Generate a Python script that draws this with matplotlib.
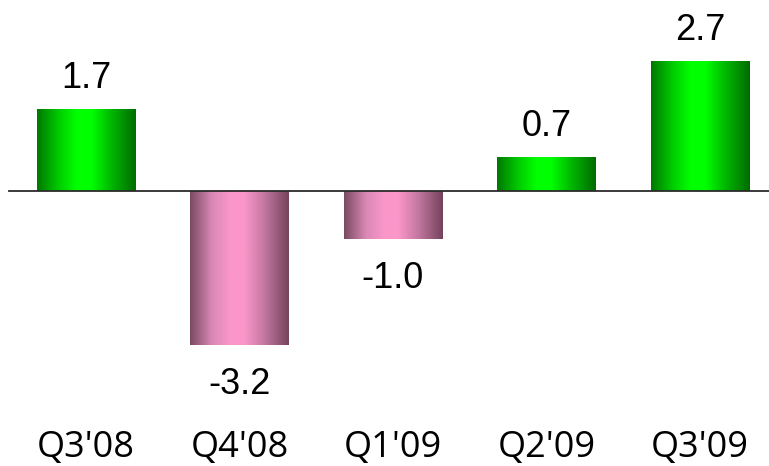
import numpy as np
import matplotlib
matplotlib.use("Agg")
import matplotlib.pyplot as plt
from matplotlib.colors import LinearSegmentedColormap

quarters = ["Q3'08", "Q4'08", "Q1'09", "Q2'09", "Q3'09"]
growth = [1.7, -3.2, -1.0, 0.7, 2.7]
labels = ["1.7", "-3.2", "-1.0", "0.7", "2.7"]

fig = plt.figure(figsize=(7.69, 4.66), dpi=100)
ax = fig.add_axes([0, 0, 1, 1])
ax.axis("off")

# cylinder-style horizontal shading: dark edges, bright centre
pos = [0.0, 0.22, 0.4, 0.55, 0.75, 1.0]
green = LinearSegmentedColormap.from_list(
    "green_bar", list(zip(pos, ["#007800", "#00cc00", "#00ff00", "#00ff00", "#00b800", "#006c00"])))
pink = LinearSegmentedColormap.from_list(
    "pink_bar", list(zip(pos, ["#7a4a62", "#d888b5", "#fb96c9", "#fb96c9", "#c478a2", "#74435b"])))
shade = np.linspace(0, 1, 256).reshape(1, -1)

bars = ax.bar(range(len(growth)), growth, width=0.64, color="none", edgecolor="none")
for bar, v in zip(bars, growth):
    x0, y0 = bar.get_x(), bar.get_y()
    w, h = bar.get_width(), bar.get_height()
    ax.imshow(shade, cmap=green if v >= 0 else pink, aspect="auto",
              extent=[x0, x0 + w, min(y0, y0 + h), max(y0, y0 + h)],
              interpolation="bilinear", zorder=2)

ax.set_xlim(-0.56, 4.45)
ax.set_ylim(-5.73, 3.98)

ax.axhline(0, xmin=0.012, xmax=1, color="#2b2b2b", lw=1.3, zorder=3)

for i, (v, t) in enumerate(zip(growth, labels)):
    if v >= 0:
        ax.annotate(t, (i, v), xytext=(0, 21), textcoords="offset pixels",
                    ha="center", va="baseline", fontsize=26,
                    family="Liberation Sans", color="black")
    else:
        ax.annotate(t, (i, v), xytext=(0, -22), textcoords="offset pixels",
                    ha="center", va="top", fontsize=26,
                    family="Liberation Sans", color="black")
    ax.text(i, -5.54, quarters[i], ha="center", va="baseline", fontsize=26,
            family=["Open Sans", "DejaVu Sans"], color="black")

fig.savefig("out.png", dpi=100)
